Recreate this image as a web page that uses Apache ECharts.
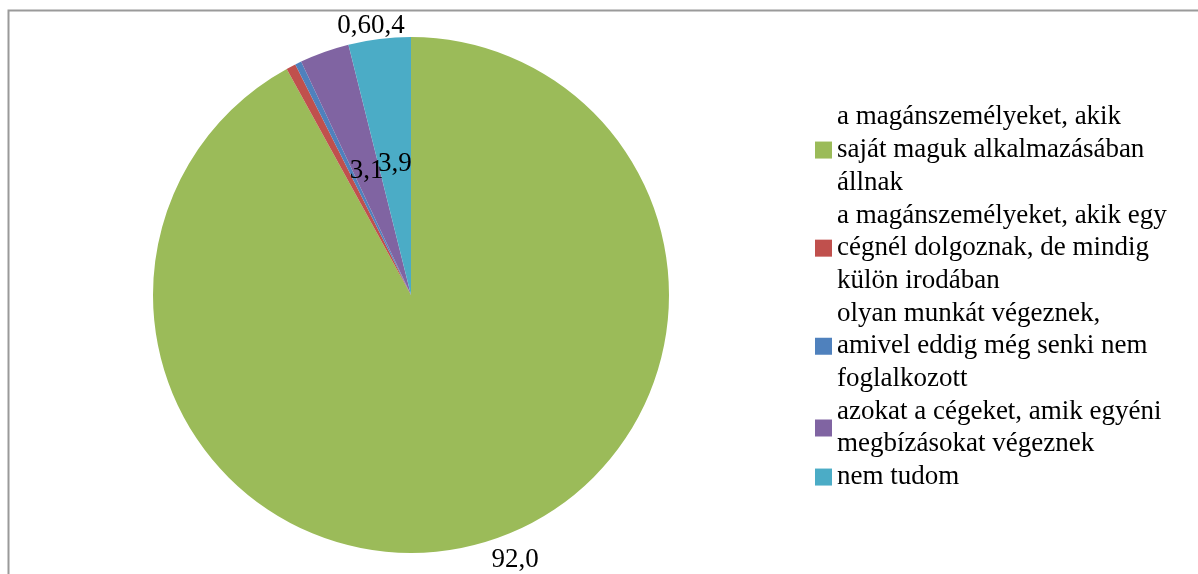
<!DOCTYPE html>
<html>
<head>
<meta charset="utf-8">
<script src="https://cdn.jsdelivr.net/npm/echarts@6/dist/echarts.min.js"></script>
<style>
  html, body { margin: 0; padding: 0; background: #fff; }
  #chart { width: 1198px; height: 574px; }
</style>
</head>
<body>
<div id="chart"></div>
<script>
var categories = [
  'a magánszemélyeket, akik\nsaját maguk alkalmazásában\nállnak',
  'a magánszemélyeket, akik egy\ncégnél dolgoznak, de mindig\nkülön irodában',
  'olyan munkát végeznek,\namivel eddig még senki nem\nfoglalkozott',
  'azokat a cégeket, amik egyéni\nmegbízásokat végeznek',
  'nem tudom'
];
var values = [92.0, 0.6, 0.4, 3.1, 3.9];
var colors = ['#9BBB59', '#C0504D', '#4F81BD', '#8064A2', '#4BACC6'];

// where Excel's "best fit" put the three outer labels
var labelSpots = {
  0: { x: 515, y: 560, align: 'center' },
  1: { x: 371, y: 26, align: 'right' },
  2: { x: 371, y: 26, align: 'left' }
};

(function () {
  var chart = echarts.init(document.getElementById('chart'), null, { renderer: 'canvas' });
  var font = '"Liberation Serif", "Times New Roman", serif';

  var data = categories.map(function (name, i) {
    return { name: name, value: values[i], itemStyle: { color: colors[i] } };
  });

  chart.setOption({
    animation: false,
    graphic: [{
      type: 'rect',
      shape: { x: 8.5, y: 10.5, width: 1400, height: 800 },
      style: { fill: 'none', stroke: '#9a9a9a', lineWidth: 2 },
      silent: true
    }],
    legend: {
      orient: 'vertical',
      left: 815,
      top: 101,
      padding: 0,
      itemWidth: 17,
      itemHeight: 17,
      itemGap: 0,
      icon: 'rect',
      selectedMode: false,
      data: categories,
      textStyle: { fontFamily: font, fontSize: 27, lineHeight: 32.7, color: '#000' }
    },
    series: [{
      type: 'pie',
      center: [411, 295],
      radius: 258,
      startAngle: 90,
      clockwise: true,
      avoidLabelOverlap: false,
      data: data,
      itemStyle: { borderWidth: 0 },
      emphasis: { disabled: true },
      label: {
        show: true,
        position: 'inside',
        fontFamily: font,
        fontSize: 27,
        color: '#000',
        formatter: function (p) { return p.value.toFixed(1).replace('.', ','); }
      },
      labelLine: { show: false },
      labelLayout: function (params) {
        var s = labelSpots[params.dataIndex];
        if (!s) return {};
        return { x: s.x, y: s.y, align: s.align, verticalAlign: 'middle' };
      }
    }]
  });

  window.addEventListener('resize', function () { chart.resize(); });
})();
</script>
</body>
</html>
